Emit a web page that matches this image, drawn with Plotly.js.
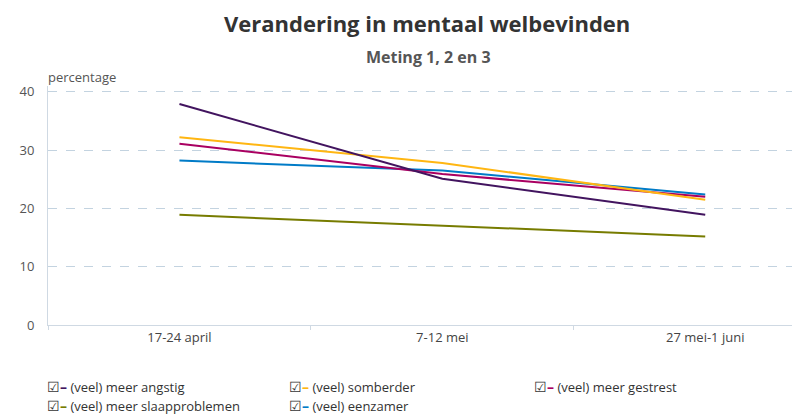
<!DOCTYPE html>
<html>
<head>
<meta charset="utf-8">
<script src="https://cdn.plot.ly/plotly-3.0.1.min.js"></script>
<style>html,body{margin:0;padding:0;background:#fff;}#chart{width:792px;height:416px;}</style>
</head>
<body>
<div id="chart"></div>
<script>
var categories = ["17-24 april", "7-12 mei", "27 mei-1 juni"];
var seriesNames = ["(veel) meer angstig", "(veel) somberder", "(veel) meer gestrest", "(veel) meer slaapproblemen", "(veel) eenzamer"];
var angstig = [37.9, 25.1, 18.9];
var somberder = [32.2, 27.8, 21.5];
var gestrest = [31.1, 25.9, 22.0];
var slaapproblemen = [18.9, 17.0, 15.2];
var eenzamer = [28.2, 26.5, 22.4];
var seriesColors = ["#42145f", "#ffb612", "#a90061", "#777c00", "#007bc7"];
var yTicks = [0, 10, 20, 30, 40];

var values = [angstig, somberder, gestrest, slaapproblemen, eenzamer];
var drawOrder = [3, 4, 2, 1, 0];
var traces = drawOrder.map(function (i) {
  return {
    type: "scatter", mode: "lines", name: seriesNames[i],
    x: categories, y: values[i],
    line: {color: seriesColors[i], width: 2},
    showlegend: false, hoverinfo: "skip"
  };
});

var font = "Open Sans, Noto Sans, sans-serif";
var plotTop = 86, plotBottom = 325, plotLeft = 48, plotW = 744, plotH = plotBottom - plotTop;
function py(pix) { return (plotBottom - pix) / plotH; }
function px(pix) { return (pix - plotLeft) / plotW; }
var legendPos = [[0, 0], [1, 0], [2, 0], [0, 1], [1, 1]];
var colX = [46, 288, 533];
var rowY = [386.5, 405.5];
var annotations = [
  {text: "<b>Verandering in mentaal welbevinden</b>", xref: "paper", yref: "paper", x: px(427), y: py(23), xanchor: "center", yanchor: "middle", showarrow: false, font: {family: font, size: 22, color: "#333"}},
  {text: "<b>Meting 1, 2 en 3</b>", xref: "paper", yref: "paper", x: px(428), y: py(57), xanchor: "center", yanchor: "middle", showarrow: false, font: {family: font, size: 16, color: "#555"}},
  {text: "percentage", xref: "paper", yref: "paper", x: px(46), y: py(77), xanchor: "left", yanchor: "middle", showarrow: false, font: {family: font, size: 13, color: "#555"}}
];
seriesNames.forEach(function (n, i) {
  var p = legendPos[i];
  annotations.push({
    text: "<span style='color:#333;font-size:14px'>☑</span><span style='color:" + seriesColors[i] + ";font-size:14px'><b>–</b></span> " + n,
    xref: "paper", yref: "paper",
    x: px(colX[p[0]]), y: py(rowY[p[1]]),
    xanchor: "left", yanchor: "middle", showarrow: false, align: "left",
    borderpad: 0,
    font: {family: font, size: 13, color: "#333"}
  });
});

var layout = {
  width: 792, height: 416,
  margin: {l: plotLeft, r: 0, t: plotTop, b: 416 - plotBottom},
  paper_bgcolor: "#fff", plot_bgcolor: "#fff",
  font: {family: font, size: 13, color: "#555"},
  xaxis: {
    type: "category", range: [-0.5, 2.33],
    showgrid: false, zeroline: false,
    showline: true, linecolor: "#cfd9e3", linewidth: 1,
    ticks: "outside", ticklen: 4, tickcolor: "#cfd9e3", tickson: "boundaries",
    tickfont: {family: font, size: 13, color: "#444"}
  },
  yaxis: {
    range: [0, 41], tickvals: yTicks, ticktext: yTicks.map(String),
    showgrid: true, gridcolor: "#c3d3e0", griddash: "dash", gridwidth: 1,
    zeroline: false, showline: true, linecolor: "#cfd9e3", linewidth: 1,
    ticks: "", ticklabelstandoff: 10,
    tickfont: {family: font, size: 13, color: "#555"}
  },
  showlegend: false,
  annotations: annotations
};

Plotly.newPlot("chart", traces, layout, {displayModeBar: false, staticPlot: true});
</script>
</body>
</html>
